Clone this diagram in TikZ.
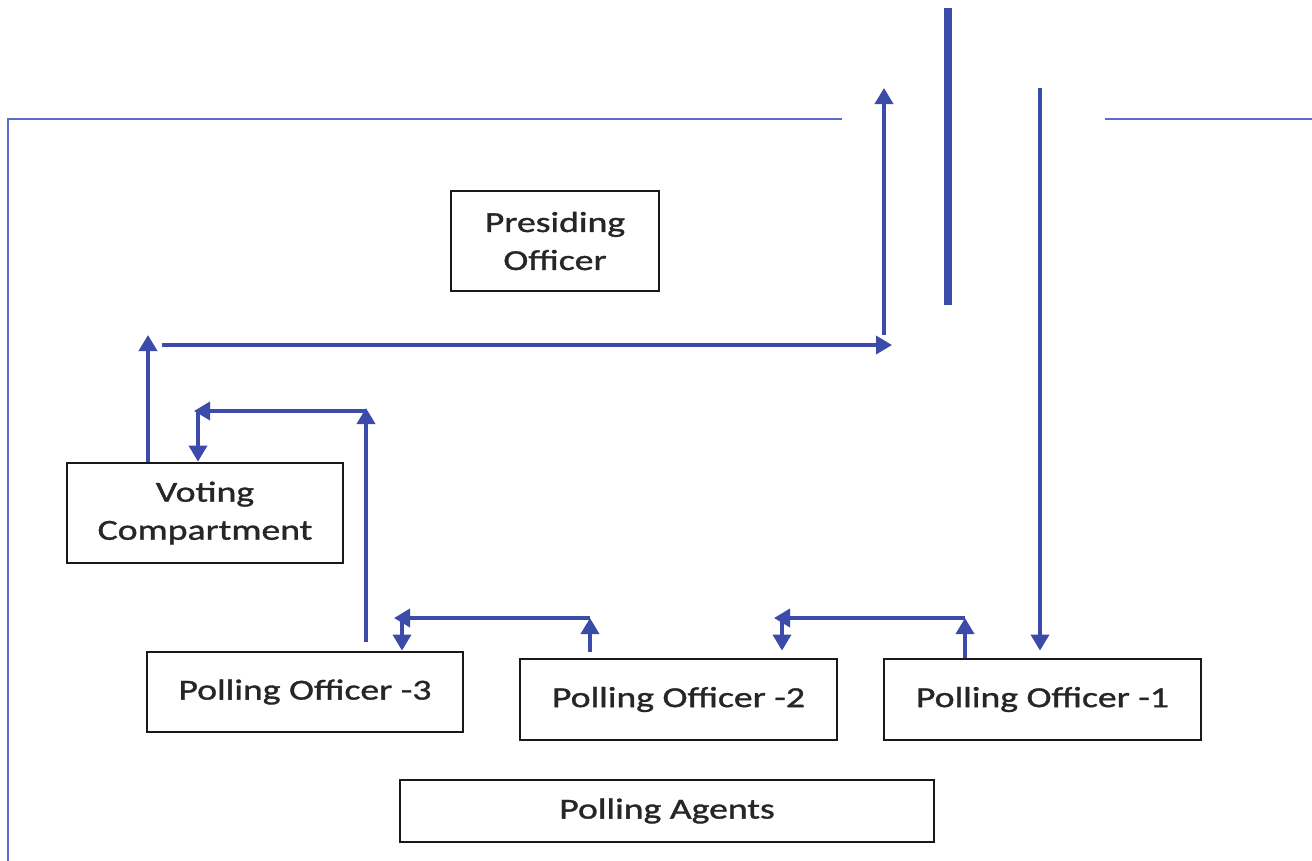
\documentclass[tikz,border=0pt]{standalone}
\usepackage{fontspec}
\setmainfont{Carlito}[FakeStretch=1.3,FakeBold=1.2]
\usetikzlibrary{arrows.meta}
\definecolor{arrblue}{RGB}{58,75,170}
\definecolor{wallblue}{RGB}{90,108,205}
\definecolor{boxline}{RGB}{25,25,25}
\begin{document}
\begin{tikzpicture}[x=1pt,y=-1pt,
  box/.style={draw=boxline,line width=2.8pt,fill=white,inner sep=0pt,align=center,
    font=\fontsize{29}{38}\selectfont,text=black!85},
  arr/.style={draw=arrblue,line width=3.6pt,-{Triangle[length=16pt,width=18pt]}},
  wall/.style={draw=wallblue,line width=1.6pt},
  bar/.style={draw=arrblue,line width=8pt}]
\useasboundingbox (0,0) rectangle (1312,860);
% walls
\coordinate (w1) at (842,119);
\coordinate (w2) at (8,119);
\coordinate (w3) at (8,862);
\coordinate (w4) at (1105,119);
\coordinate (w5) at (1314,119);
\draw[wall] (w1) -- (w2) -- (w3);
\draw[wall] (w4) -- (w5);
% entrance bar
\coordinate (b1) at (948,8);
\coordinate (b2) at (948,305);
\draw[bar] (b1) -- (b2);
% boxes
\node[box,minimum width=208pt,minimum height=100pt] (pro) at (555,241) {Presiding\\Officer};
\node[box,minimum width=276pt,minimum height=100pt] (vc) at (205,513) {Voting\\Compartment};
\node[box,minimum width=316pt,minimum height=80pt] (po3) at (305,692) {Polling Officer -3};
\node[box,minimum width=317pt,minimum height=81pt] (po2) at (678.5,699.5) {Polling Officer -2};
\node[box,minimum width=317pt,minimum height=81pt] (po1) at (1042.5,699.5) {Polling Officer -1};
\node[box,minimum width=534pt,minimum height=62pt] (pa) at (667,811) {Polling Agents};
% entry
\coordinate (in1) at (1040,88);
\draw[arr] (in1) -- ([yshift=7pt]1040,0 |- po1.north);
% PO1 -> PO2
\coordinate (c1) at (965,618);
\coordinate (c2) at (782,618);
\draw[arr] (965,0 |- po1.north) -- (c1);
\draw[arr] (c1) -- ([xshift=-8pt]c2);
\draw[arr] (c2) -- ([yshift=7pt]782,0 |- po2.north);
% PO2 -> PO3
\coordinate (c3) at (590,618);
\coordinate (c4) at (402,618);
\draw[arr] ([yshift=6pt]590,0 |- po2.north) -- (c3);
\draw[arr] (c3) -- ([xshift=-8pt]c4);
\draw[arr] (c4) -- (402,0 |- po3.north);
% PO3 -> VC
\coordinate (c5) at (366,411);
\coordinate (c6) at (198,411);
\draw[arr] ([yshift=9pt]366,0 |- po3.north) -- ([yshift=3pt]c5);
\draw[arr] (c5) -- ([xshift=-4pt]c6);
\draw[arr] (c6) -- (198,0 |- vc.north);
% VC -> exit
\coordinate (c7) at (148,335);
\coordinate (c8) at (162,345);
\coordinate (c9) at (892,345);
\coordinate (c10) at (884,335);
\coordinate (c11) at (884,88);
\draw[arr] (148,0 |- vc.north) -- (c7);
\draw[arr] (c8) -- (c9);
\draw[arr] (c10) -- (c11);
\end{tikzpicture}
\end{document}
